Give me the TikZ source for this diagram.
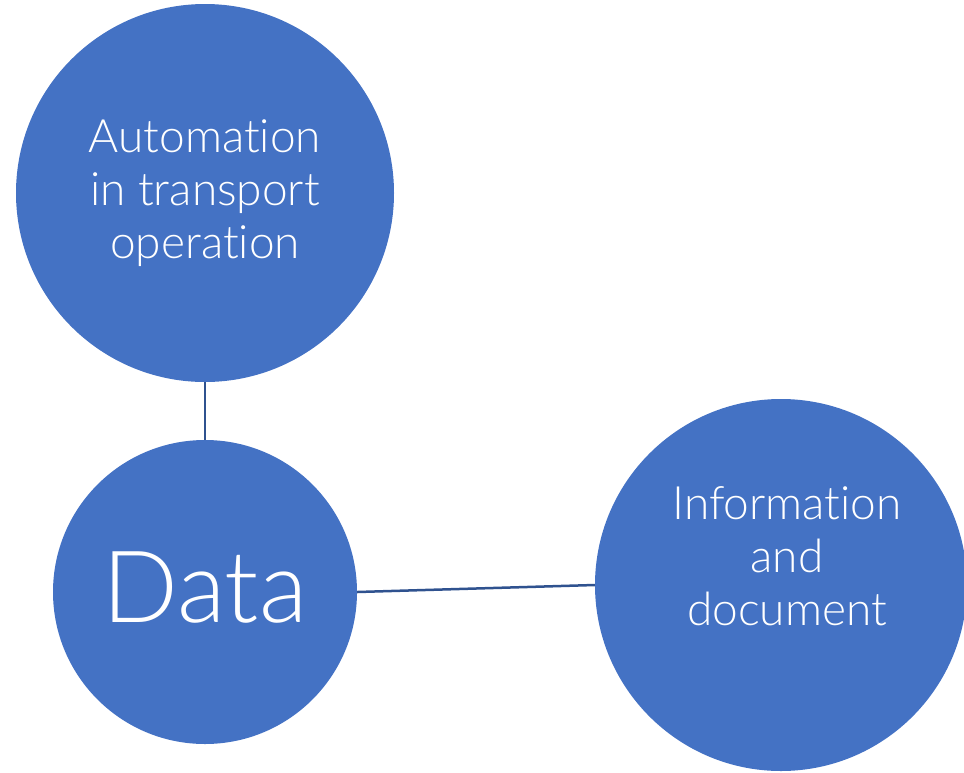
\documentclass[tikz,border=0pt]{standalone}
\usepackage{fontspec}
\setmainfont{Lato}[UprightFont=* Light,Ligatures=NoCommon]
\definecolor{bubble}{HTML}{4472C4}
\definecolor{link}{HTML}{2F528F}
\begin{document}
\begin{tikzpicture}[x=1pt,y=-1pt,
  bubble/.style={circle,fill=bubble,draw=none,inner sep=0pt,minimum size=#1},
  caption/.style={text=white,align=center,inner sep=0pt},
  link/.style={draw=link,line width=2.5pt}]
\useasboundingbox (0,0) rectangle (964,772);
% the three bubbles
\node[bubble=378pt] (auto) at (205,193) {};
\node[bubble=304pt] (data) at (205,592) {};
\node[bubble=372pt] (info) at (781,585) {};
% captions
\node[caption,font=\fontsize{46}{53}\selectfont] (autotxt) at (205,193) {Automation\\in transport\\operation};
\node[caption,font=\fontsize{100}{110}\selectfont] (datatxt) at (205,588) {Data};
\node[caption,font=\fontsize{46}{53}\selectfont] (infotxt) at (787,556) {Information\\and\\document};
% connectors
\draw[link] (auto.south) -- (data.north);
\draw[link] (data.east) -- (info.west);
\end{tikzpicture}
\end{document}
